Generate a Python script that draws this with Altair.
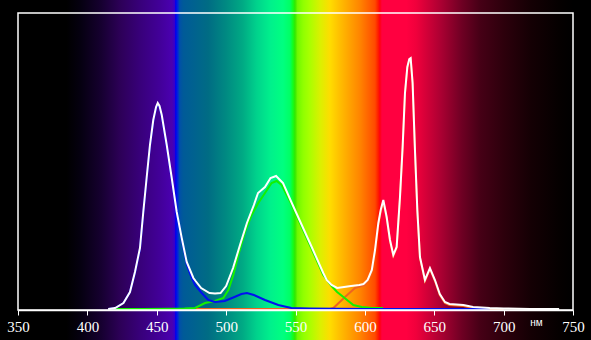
import altair as alt
import pandas as pd

# ---- data (wavelength in nm, relative intensity) ----
white_nm = [415, 420, 426, 430.7, 434.3, 437.9, 440.3, 442.7, 445.1, 447.5, 449.5, 450.7, 452, 453.6,
            457.2, 460.8, 464.4, 468, 471.6, 476.4, 478, 482, 488, 492, 496, 500, 505, 510, 515, 520,
            523, 528, 532, 536, 541, 547, 554.5, 562, 570, 572.5, 576, 580, 585, 590, 596, 599, 602,
            605, 607.3, 609.7, 611.4, 613.3, 615.7, 618.1, 620.5, 622.9, 625.3, 627.2, 628.9, 630.6,
            632, 633, 634.4, 636.1, 637.8, 639.7, 643.3, 646.9, 650.5, 654, 657.7, 661, 671, 678,
            690, 700, 719, 740]
white_val = [1, 2, 7, 18, 38, 62, 98, 132, 165, 190, 203, 207, 204, 195,
             165, 132, 98, 72, 48, 32, 29, 22, 17, 16.5, 17, 24, 42, 65, 87, 105,
             117, 123, 132, 134, 127, 108, 85, 62, 37, 30, 25, 22, 23, 24, 25, 26, 30,
             40, 60, 87, 100, 110, 93, 70, 55, 63, 113, 163, 217, 243,
             251, 252, 227, 160, 100, 53, 30, 42, 30, 16, 8, 6, 5, 3,
             2, 1.5, 1, 1]

blue_nm = [415, 420, 426, 430.7, 434.3, 437.9, 440.3, 442.7, 445.1, 447.5, 449.5, 450.7, 452, 453.6,
           457.2, 460.8, 464.4, 468, 471.6, 474, 477.6, 482.4, 487.2, 492, 499, 506, 511, 515, 520,
           528, 537.6, 547, 560, 600, 650, 690]
blue_val = [1, 2, 7, 18, 37, 61, 97, 131, 164, 189, 202, 206, 203, 194,
            164, 131, 97, 71, 46, 36, 25, 17, 10, 8, 9, 13, 16, 17, 15,
            10, 5, 2, 1.5, 1, 1, 1]

green_nm = [418, 440, 460, 470, 477.6, 484.8, 492, 498, 501.6, 505.2, 508.8, 513.6, 518.4, 523.2,
            528, 532.8, 536.4, 540, 547, 554.5, 562, 570, 576, 580, 584.5, 591.7, 597.7, 605, 613]
green_val = [1, 1, 1.2, 1.5, 2, 7, 9, 12, 20, 35, 55, 78, 95, 107,
             117, 127, 129, 125, 106, 83, 60, 35, 24, 18, 13, 5, 3, 2, 2]

red_nm = [478, 575, 577.3, 585.7, 592.9, 600, 602, 605, 607.3, 609.7, 611.4, 613.3, 615.7, 618.1,
          620.5, 622.9, 625.3, 627.2, 628.9, 630.6, 632, 633, 634.4, 636.1, 637.8, 639.7, 643.3,
          646.9, 650.5, 654, 657.7, 661, 671, 678, 690, 700]
red_val = [1, 1, 2, 13, 22, 25, 29, 38, 58, 85, 98, 108, 92, 69,
           54, 62, 112, 162, 216, 242, 250, 251, 226, 159, 99, 52, 29,
           41, 29, 15, 7, 5, 4, 2, 1, 0.5]

x_ticks = [350, 400, 450, 500, 550, 600, 650, 700, 750]

# spectrum background stops (nm, colour)
stop_nm = [350, 385, 395, 410, 424, 438, 452, 461, 462.8, 463.6, 465.2, 466.5, 469, 487, 500,
           512, 522, 532, 541, 546, 548, 549.6, 551.5, 555.6, 560, 568, 575, 582, 596.5, 607.3,
           609.7, 610.8, 612.3, 630, 637, 655, 670, 683, 700, 720, 740, 750]
stop_col = ["#000000", "#000000", "#050010", "#160030", "#2d0058", "#38007a", "#420098", "#4a00b0",
            "#3800c8", "#0000f0", "#0028d8", "#0050a8", "#005a98", "#006c84", "#008a82",
            "#00aa84", "#00d28c", "#00f08c", "#00ff80", "#00ff64", "#10ff20", "#30e800", "#70f800",
            "#90ff00", "#a8ff00", "#dcf000", "#ffdc00", "#ffbe00", "#ff8400", "#ff4a00",
            "#ff1a00", "#ff0010", "#ff0040", "#ff0040", "#f0003c", "#aa0032", "#6e0023", "#460016",
            "#2d000c", "#140004", "#050000", "#000000"]

W, H = 555, 297

gradient = alt.Gradient(
    gradient="linear",
    stops=[alt.GradientStop(offset=(n - 350) / 400, color=c) for n, c in zip(stop_nm, stop_col)],
    x1=0, x2=1, y1=0, y2=0,
)

xscale = alt.Scale(domain=[350, 750], nice=False, zero=False)
yscale = alt.Scale(domain=[0, 297], nice=False, zero=True)

bg = alt.Chart(pd.DataFrame({"a": [350], "b": [750]})).mark_rect(fill=gradient).encode(
    x=alt.X("a:Q", scale=xscale,
            axis=alt.Axis(values=x_ticks, title="нм", labelColor="white", tickColor="white",
                          domainColor="white", domainWidth=1.5, tickSize=5, tickWidth=1,
                          labelFont="Liberation Sans Narrow", labelFontSize=15, labelPadding=4,
                          labelFlush=False, grid=False, zindex=1,
                          titleColor="white", titleFont="Liberation Sans", titleFontSize=10,
                          titleFontWeight="normal", titleX=518, titleY=12, titleBaseline="middle",
                          titleAlign="center")),
    x2="b:Q",
    y=alt.value(-13),
    y2=alt.value(H + 30),
)


def curve(nm, val, color):
    df = pd.DataFrame({"nm": nm, "v": val})
    return alt.Chart(df).mark_line(color=color, strokeWidth=2, clip=True).encode(
        x=alt.X("nm:Q", scale=xscale),
        y=alt.Y("v:Q", scale=yscale, axis=None),
        order="nm:Q",
    )


red = curve(red_nm, red_val, "#f06420")
green = curve(green_nm, green_val, "#14f000")
blue = curve(blue_nm, blue_val, "#0010f0")
white = curve(white_nm, white_val, "#ffffff")

frame = alt.Chart(pd.DataFrame({"a": [0]})).mark_rect(filled=False, stroke="white", strokeWidth=1.5).encode(
    x=alt.value(0), x2=alt.value(W), y=alt.value(0), y2=alt.value(H)
)

chart = alt.layer(bg, red, green, blue, white, frame).properties(
    width=W, height=H,
    autosize=alt.AutoSizeParams(type="none"),
    padding={"left": 18, "top": 13, "right": 18, "bottom": 30},
    background="black",
).configure_view(stroke=None, fill="black")

chart.save("out.html", embed_options={"renderer": "svg", "actions": False})
